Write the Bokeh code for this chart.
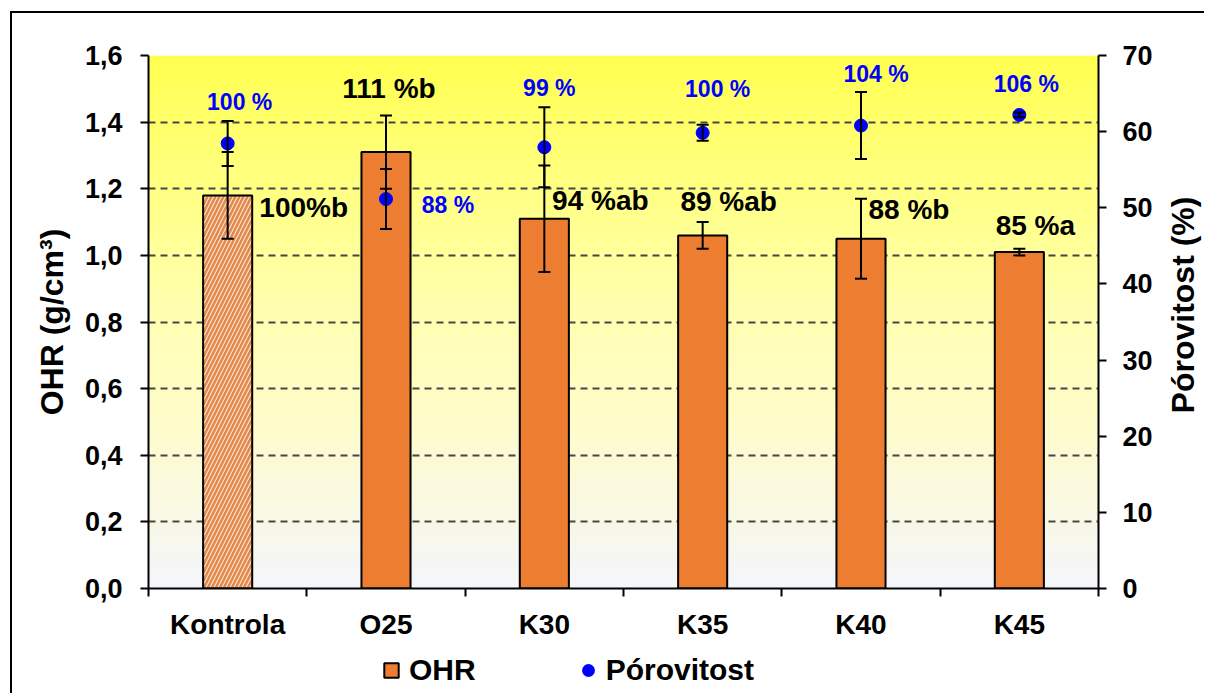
import math
import numpy as np
from bokeh.plotting import figure
from bokeh.layouts import column, row
from bokeh.models import (Range1d, LinearAxis, FixedTicker, CustomJSTickFormatter, Whisker,
                          TeeHead, ColumnDataSource, Legend, LegendItem)
from bokeh.core.properties import value
from bokeh.embed import file_html
from bokeh.resources import INLINE

# ---- data -------------------------------------------------------------
categories = ["Kontrola", "O25", "K30", "K35", "K40", "K45"]
ohr = [1.18, 1.31, 1.11, 1.06, 1.05, 1.01]            # g/cm3
ohr_err = [0.13, 0.11, 0.16, 0.04, 0.12, 0.01]
ohr_labels = ["100%b", "111 %b", "94 %ab", "89 %ab", "88 %b", "85 %a"]
porovitost = [58.45, 51.15, 57.95, 59.85, 60.8, 62.2]  # %
porovitost_err = [2.95, 3.95, 5.25, 1.05, 4.4, 0.3]
poro_labels = ["100 %", "88 %", "99 %", "100 %", "104 %", "106 %"]
left_ticks = [0.0, 0.2, 0.4, 0.6, 0.8, 1.0, 1.2, 1.4, 1.6]
right_ticks = [0, 10, 20, 30, 40, 50, 60, 70]

# label placement (pixel offsets from the mark they describe)
ohr_label_dx = [76, 3, 56, 26, 48, 16]
ohr_label_dy = [12, -64, -18, -34, -29, -27]
poro_label_dx = [12, 62, 5, 15, 15, 7]
poro_label_dy = [-41, 6, -59, -44, -52, -31]

# ---- styling ----------------------------------------------------------
FONT = "Liberation Sans"
ORANGE = "#ED7D31"
HATCH_BG = "#FBE3D0"
HATCH_FG = "#E3884B"
BLUE = "#0000FF"
GRID = "#474747"

# page geometry: the chart sits inside a frame whose top/left edges are a border
OX, OY = 12, 13
CHART_W, TITLE_W = 1148, 44
CHART_H, KEY_H = 632, 48
FRAME_L, FRAME_T, FRAME_R, FRAME_B = 148, 55, 1098, 588
BORDER_T = FRAME_T - OY
BORDER_B = CHART_H - (FRAME_B - OY)

n_cat = len(categories)
xs = [i + 0.5 for i in range(n_cat)]

p = figure(width=CHART_W, height=CHART_H, x_range=Range1d(0, n_cat), y_range=Range1d(0, 1.6),
           output_backend="svg", toolbar_location=None,
           min_border_left=FRAME_L - OX, min_border_right=CHART_W - (FRAME_R - OX),
           min_border_top=BORDER_T, min_border_bottom=BORDER_B)
p.extra_y_ranges = {"right": Range1d(0, 70)}
p.outline_line_color = None
p.border_fill_color = "white"
p.background_fill_color = "white"

# vertical background gradient: pale grey-blue at the bottom to bright yellow at the top
stop_pos = [0.0, 0.12, 0.3, 0.55, 0.8, 1.0]
stop_r = [244, 248, 255, 255, 255, 255]
stop_g = [246, 248, 252, 255, 255, 255]
stop_b = [252, 232, 205, 172, 122, 80]
n_rows = 400
t = np.linspace(0, 1, n_rows)
img = np.empty((n_rows, 1), dtype=np.uint32)
view = img.view(dtype=np.uint8).reshape((n_rows, 1, 4))
view[:, 0, 0] = np.interp(t, stop_pos, stop_r).astype(np.uint8)
view[:, 0, 1] = np.interp(t, stop_pos, stop_g).astype(np.uint8)
view[:, 0, 2] = np.interp(t, stop_pos, stop_b).astype(np.uint8)
view[:, 0, 3] = 255
bg = p.image_rgba(image=[img], x=0, y=0, dw=n_cat, dh=1.6)
bg.level = "image"

# grid
p.xgrid.visible = False
p.ygrid.ticker = FixedTicker(ticks=left_ticks)
p.ygrid.grid_line_color = GRID
p.ygrid.grid_line_width = 2
p.ygrid.grid_line_dash = "7 5"


def style_axis(ax, label_size="27px"):
    ax.axis_line_color = "black"
    ax.axis_line_width = 2
    ax.major_tick_line_color = "black"
    ax.major_tick_line_width = 2
    ax.major_tick_in = 0
    ax.major_tick_out = 8
    ax.minor_tick_line_color = None
    ax.major_label_text_font = FONT
    ax.major_label_text_font_style = "bold"
    ax.major_label_text_font_size = label_size
    ax.major_label_text_color = "black"
    ax.axis_label_text_font = FONT
    ax.axis_label_text_font_style = "bold"
    ax.axis_label_text_font_size = "32px"
    ax.axis_label_text_color = "black"


# x axis: names under the bars, tick marks between the groups
xax = p.xaxis[0]
style_axis(xax, "28px")
xax.ticker = FixedTicker(ticks=xs, minor_ticks=list(range(n_cat + 1)))
xax.major_label_overrides = {x: c for x, c in zip(xs, categories)}
xax.major_tick_line_color = None
xax.minor_tick_line_color = "black"
xax.minor_tick_line_width = 2
xax.minor_tick_in = 0
xax.minor_tick_out = 8
xax.major_label_standoff = 12

# left axis
yax = p.yaxis[0]
style_axis(yax)
yax.ticker = FixedTicker(ticks=left_ticks)
yax.formatter = CustomJSTickFormatter(code="return tick.toFixed(1).replace('.', ',');")
yax.axis_label = "OHR (g/cm³)"
yax.major_label_standoff = 18
yax.axis_label_standoff = 12

# right axis (its title is set in the narrow strip to the right)
rax = LinearAxis(y_range_name="right", ticker=FixedTicker(ticks=right_ticks))
style_axis(rax)
rax.major_label_standoff = 16
p.add_layout(rax, "right")

# ---- bars -------------------------------------------------------------
bar_src = ColumnDataSource(dict(
    x=xs, top=ohr,
    lower=[v - e for v, e in zip(ohr, ohr_err)],
    upper=[v + e for v, e in zip(ohr, ohr_err)],
    bar_fill=[HATCH_BG if c == "Kontrola" else ORANGE for c in categories],
    bar_hatch=["right_diagonal_line" if c == "Kontrola" else " " for c in categories],
    label=ohr_labels, dx=ohr_label_dx, dy=ohr_label_dy,
))
bars = p.vbar(x="x", top="top", bottom=0, width=0.31, source=bar_src,
              fill_color="bar_fill", hatch_pattern="bar_hatch", hatch_color=HATCH_FG,
              hatch_scale=8, hatch_weight=2.5, line_color="black", line_width=2)

bar_whisk = Whisker(base="x", lower="lower", upper="upper", source=bar_src,
                    line_color="black", line_width=2, level="glyph",
                    upper_head=TeeHead(size=12, line_width=2, line_color="black"),
                    lower_head=TeeHead(size=12, line_width=2, line_color="black"))
p.add_layout(bar_whisk)

# ---- porosity points ---------------------------------------------------
pt_src = ColumnDataSource(dict(
    x=xs, y=porovitost,
    lower=[v - e for v, e in zip(porovitost, porovitost_err)],
    upper=[v + e for v, e in zip(porovitost, porovitost_err)],
    label=poro_labels, dx=poro_label_dx, dy=poro_label_dy,
))
pt_whisk = Whisker(base="x", lower="lower", upper="upper", source=pt_src,
                   y_range_name="right", line_color="black", line_width=2, level="glyph",
                   upper_head=TeeHead(size=12, line_width=2, line_color="black"),
                   lower_head=TeeHead(size=12, line_width=2, line_color="black"))
p.add_layout(pt_whisk)

pts = p.scatter(x="x", y="y", source=pt_src, y_range_name="right", size=13,
                fill_color=BLUE, line_color=BLUE)

# ---- value labels -----------------------------------------------------
p.text(x="x", y="top", text="label", x_offset="dx", y_offset="dy", source=bar_src,
       text_align="center", text_baseline="middle", text_font=value(FONT),
       text_font_style="bold", text_font_size="28px", text_color="black")
p.text(x="x", y="y", text="label", x_offset="dx", y_offset="dy", source=pt_src,
       y_range_name="right", text_align="center", text_baseline="middle",
       text_font=value(FONT), text_font_style="bold", text_font_size="23px",
       text_color=BLUE)


def blank_strip(width, height, **borders):
    f = figure(width=width, height=height, x_range=Range1d(0, 1), y_range=Range1d(0, 1),
               output_backend="svg", toolbar_location=None,
               x_axis_type=None, y_axis_type=None, **borders)
    f.outline_line_color = None
    f.grid.visible = False
    f.background_fill_color = "white"
    f.border_fill_color = "white"
    return f


# ---- right-hand axis title, reading upwards ------------------------------
title_strip = blank_strip(TITLE_W, CHART_H, min_border_left=0, min_border_right=0,
                          min_border_top=BORDER_T, min_border_bottom=BORDER_B)
title_strip.text(x=[0.5], y=[0.5], text=["Pórovitost (%)"], angle=math.pi / 2,
                 y_offset=-17, text_align="center", text_baseline="middle",
                 text_font=value(FONT), text_font_style="bold", text_font_size="32px",
                 text_color="black")

# ---- legend strip under the chart --------------------------------------
key = blank_strip(CHART_W + TITLE_W, KEY_H, min_border_left=FRAME_L - OX,
                  min_border_right=CHART_W + TITLE_W - (FRAME_R - OX),
                  min_border_top=0, min_border_bottom=0)

# key swatches: one sample each, parked outside the strip's visible range
key_bar = key.scatter(x=[-5], y=[-5], marker="square", size=14, fill_color=ORANGE,
                      line_color="black", line_width=2)
key_pt = key.scatter(x=[-5], y=[-5], marker="circle", size=14, fill_color=BLUE,
                     line_color="white", line_width=1.5)
legend = Legend(items=[LegendItem(label="OHR", renderers=[key_bar], index=0),
                       LegendItem(label="Pórovitost", renderers=[key_pt], index=0)],
                location=(373 - FRAME_L, 5), orientation="horizontal",
                background_fill_alpha=0, border_line_color=None, padding=0, margin=0,
                glyph_width=36, glyph_height=36, label_standoff=-2, spacing=94,
                label_text_font=FONT, label_text_font_style="bold",
                label_text_font_size="30px", label_text_color="black")
key.add_layout(legend)

page = column(row(p, title_strip, spacing=0), key, spacing=0,
              styles={"margin-left": "10px", "margin-top": "11px",
                      "border-top": "2px solid black", "border-left": "2px solid black"})

open("out.html", "w").write(file_html(page, INLINE))
